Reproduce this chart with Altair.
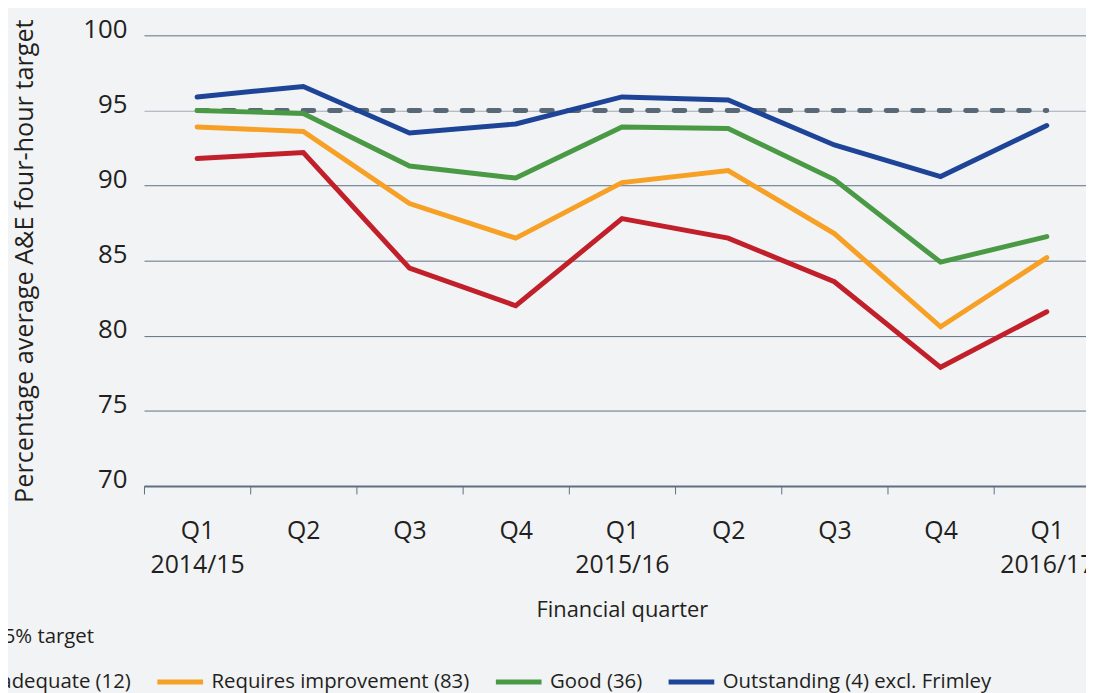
import altair as alt
import pandas as pd

# ---- data ----
quarters = ["2014/15 Q1", "2014/15 Q2", "2014/15 Q3", "2014/15 Q4",
            "2015/16 Q1", "2015/16 Q2", "2015/16 Q3", "2015/16 Q4",
            "2016/17 Q1"]
series_names = ["Inadequate (12)", "Requires improvement (83)",
                "Good (36)", "Outstanding (4) excl. Frimley"]
series_colors = ["#c1202b", "#f6a025", "#4a9a45", "#1e4498"]
inadequate = [91.8, 92.2, 84.5, 82.0, 87.8, 86.5, 83.6, 77.9, 81.6]
requires_improvement = [93.9, 93.6, 88.8, 86.5, 90.2, 91.0, 86.8, 80.6, 85.2]
good = [95.0, 94.8, 91.3, 90.5, 93.9, 93.8, 90.4, 84.9, 86.6]
outstanding = [95.9, 96.6, 93.5, 94.1, 95.9, 95.7, 92.7, 90.6, 94.0]
target_name = "95% target"
target = [95, 95, 95, 95, 95, 95, 95, 95, 95]
y_ticks = [70, 75, 80, 85, 90, 95, 100]

rows = []
for name, vals in zip(series_names, [inadequate, requires_improvement, good, outstanding]):
    for q, v in zip(quarters, vals):
        rows.append({"quarter": q, "series": name, "value": v})
df = pd.DataFrame(rows)
df_t = pd.DataFrame({"quarter": quarters, "target": target_name, "value": target})

FONT = "Open Sans"
TXT = "#231f20"
GRID = "#5f7081"
DASH = [10.7, 16]
HALF_BAND = 963 / len(quarters) / 2

x_enc = alt.X(
    "quarter:N",
    sort=quarters,
    bandPosition=0.5,
    scale=alt.Scale(type="band", domain=quarters, range=[0, 963],
                    paddingInner=0, paddingOuter=0),
    axis=alt.Axis(
        title="Financial quarter",
        labelExpr="indexof(datum.value, 'Q1') >= 0 ? [slice(datum.value, 8), slice(datum.value, 0, 7)] : slice(datum.value, 8)",
        labelAngle=0, labelFontSize=25, labelLineHeight=34, labelPadding=25,
        labelOverlap=False, labelColor=TXT,
        tickOffset=-HALF_BAND, labelOffset=HALF_BAND,
        tickSize=8, tickColor=GRID, tickWidth=1,
        domainColor=GRID, domainWidth=2, grid=False,
        titleFontSize=22, titleFontWeight="normal", titleColor=TXT,
        titlePadding=22,
    ),
)
y_enc = alt.Y(
    "value:Q",
    scale=alt.Scale(domain=[70, 100], nice=False, zero=False),
    axis=alt.Axis(
        title="Percentage average A&E four-hour target",
        values=y_ticks, domain=False, ticks=False,
        labelPadding=17, labelFontSize=26, labelColor=TXT,
        labelBaseline="alphabetic", labelOffset=2,
        grid=True, gridWidth=1,
        gridColor={"condition": {"test": "datum.value === 95", "value": "#a2abb3"}, "value": GRID},
        titleFontSize=25.4, titleFontWeight="normal", titleColor=TXT,
        titlePadding=46,
    ),
)

target_layer = alt.Chart(df_t).mark_line(
    strokeWidth=5, strokeCap="round", color="#586877"
).encode(
    x=x_enc, y=y_enc,
    strokeDash=alt.StrokeDash(
        "target:N",
        scale=alt.Scale(domain=[target_name], range=[DASH]),
        legend=alt.Legend(
            title=None, orient="none", legendX=-210, legendY=581,
            direction="horizontal", symbolType="stroke", symbolSize=2116,
            symbolStrokeWidth=5, symbolStrokeColor="#586877",
            labelFontSize=20.5, labelOffset=6, labelColor=TXT,
        ),
    ),
)

series_layer = alt.Chart(df).mark_line(
    strokeWidth=5, strokeCap="round"
).encode(
    x=x_enc, y=y_enc,
    color=alt.Color(
        "series:N",
        scale=alt.Scale(domain=series_names, range=series_colors),
        legend=alt.Legend(
            title=None, orient="none", legendX=-220, legendY=626,
            direction="horizontal", columns=4, columnPadding=16,
            symbolType="stroke", symbolSize=2116, symbolStrokeWidth=5,
            labelFontSize=20.5, labelOffset=6, labelColor=TXT, labelLimit=400,
        ),
    ),
)

chart = alt.layer(target_layer, series_layer).properties(
    width=949, height=454,
    autosize=alt.AutoSizeParams(type="none"),
    padding={"left": 137, "top": 25, "right": 0, "bottom": 206},
    background="#f2f3f5",
).configure(
    font=FONT,
).configure_view(
    stroke=None,
).configure_legend(
    labelFont=FONT,
)

chart.save("out.html", embed_options={"renderer": "svg", "actions": False})
